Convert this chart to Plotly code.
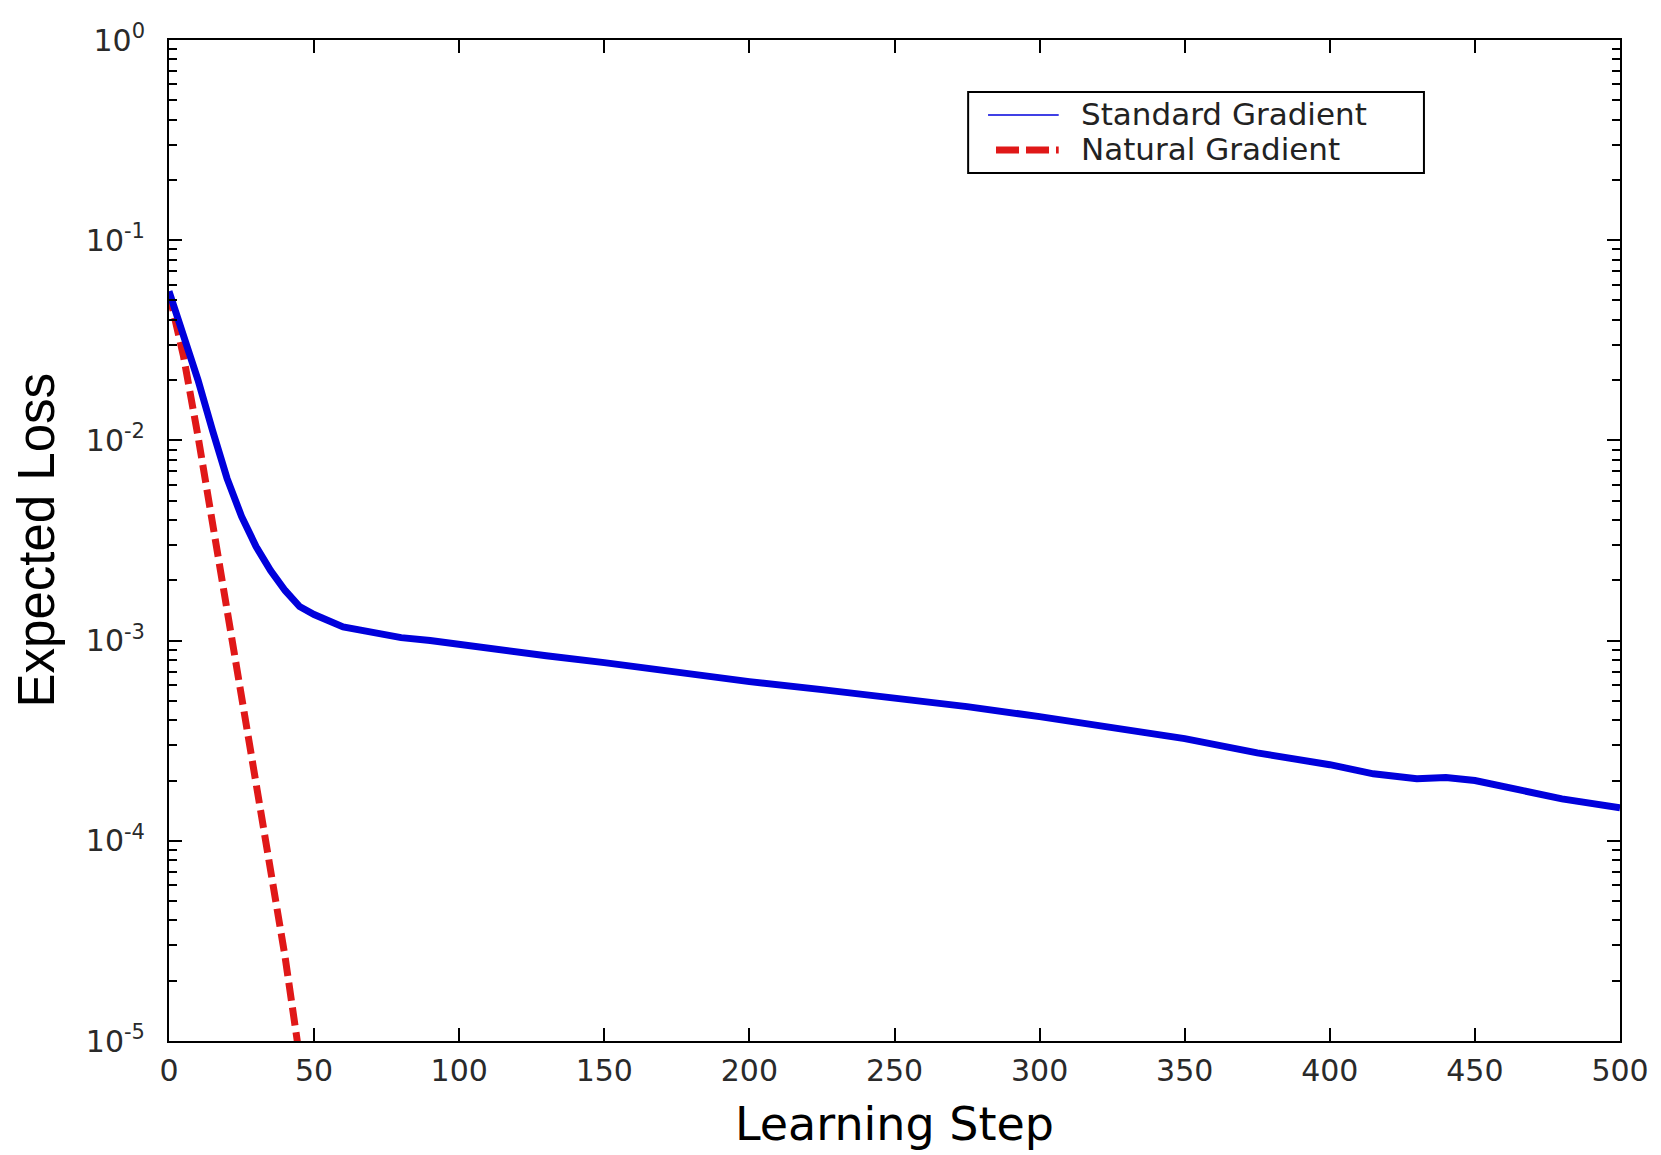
import plotly.graph_objects as go

# Expected loss per learning step for the two optimisers
steps_standard = [0, 5, 10, 15, 20, 25, 30, 35, 40, 45, 50, 60, 70, 80, 90, 100,
                  110, 120, 130, 150, 175, 200, 225, 250, 275, 300, 325, 350,
                  375, 400, 415, 430, 440, 450, 465, 480, 500]
loss_standard = [0.0556, 0.0339, 0.0200, 0.0112, 0.00646, 0.00417, 0.00295,
                 0.00224, 0.00178, 0.00148, 0.00135, 0.00117, 0.00110,
                 0.001035, 0.00100, 0.000955, 0.000912, 0.000871, 0.000841,
                 0.000776, 0.000692, 0.000624, 0.000569, 0.000519, 0.000468,
                 0.000417, 0.000367, 0.000324, 0.000275, 0.000240, 0.000216,
                 0.000204, 0.000207, 0.000200, 0.000180, 0.000162, 0.000146]

steps_natural = [0, 5, 10, 15, 20, 25, 30, 35, 40, 45]
loss_natural = [0.0543, 0.0263, 0.01047, 0.00389, 0.00141, 0.000525,
                0.000191, 0.0000708, 0.0000263, 0.00000832]

series_names = ["Standard Gradient", "Natural Gradient"]

x_tick_vals = [0, 50, 100, 150, 200, 250, 300, 350, 400, 450, 500]
y_tick_vals = [1e-5, 1e-4, 1e-3, 1e-2, 1e-1, 1]
y_tick_text = ["10<sup>-5</sup>", "10<sup>-4</sup>", "10<sup>-3</sup>",
               "10<sup>-2</sup>", "10<sup>-1</sup>", "10<sup>0</sup>"]
y_minor_vals = [m * 10.0 ** e for e in range(-5, 0) for m in range(2, 10)]

BLUE = "#0000dc"
RED = "#e01818"
RED_DASH = "18px,7px"
TICK_FONT = dict(family="DejaVu Sans", size=30, color="#2a2a2a")

# plot-area geometry (pixels)
W, H = 1661, 1155
L, R, T, B = 169, 34, 40, 114
PW, PH = W - L - R, H - T - B


def px(x):
    return (x - L) / PW


def py(y):
    return 1 - (y - T) / PH


fig = go.Figure()

fig.add_trace(go.Scatter(
    x=steps_natural, y=loss_natural, mode="lines", name=series_names[1],
    line=dict(color=RED, width=7, dash=RED_DASH),
))
fig.add_trace(go.Scatter(
    x=steps_standard, y=loss_standard, mode="lines", name=series_names[0],
    line=dict(color=BLUE, width=7),
))

# boxed legend in the upper right of the axes
legend_shapes = [
    dict(type="rect", xref="paper", yref="paper",
         x0=px(972), x1=px(1430), y0=py(92), y1=py(173),
         line=dict(color="black", width=2), fillcolor="white", layer="above"),
    dict(type="line", xref="paper", yref="paper",
         x0=px(992), x1=px(1063), y0=py(115), y1=py(115),
         line=dict(color=BLUE, width=1.5), layer="above"),
    dict(type="line", xref="paper", yref="paper",
         x0=px(1000), x1=px(1063), y0=py(150), y1=py(150),
         line=dict(color=RED, width=7, dash="23px,7px"), layer="above"),
]
legend_labels = [
    dict(text=name, xref="paper", yref="paper", x=px(1083), y=py(yc),
         xanchor="left", yanchor="middle", showarrow=False,
         font=dict(family="DejaVu Sans", size=31, color="#222222"))
    for name, yc in zip(series_names, [114, 149])
]

fig.update_layout(
    width=W, height=H,
    margin=dict(l=L, r=R, t=T, b=B),
    paper_bgcolor="white", plot_bgcolor="white",
    showlegend=False,
    xaxis=dict(
        range=[0, 500], tickmode="array", tickvals=x_tick_vals,
        ticks="inside", ticklen=13, tickwidth=2, tickcolor="black",
        showline=True, linewidth=2, linecolor="black", mirror="ticks",
        showgrid=False, zeroline=False, tickfont=TICK_FONT,
        ticklabelstandoff=2,
    ),
    yaxis=dict(
        type="log", range=[-5, 0], tickmode="array",
        tickvals=y_tick_vals, ticktext=y_tick_text,
        ticks="inside", ticklen=13, tickwidth=2, tickcolor="black",
        showline=True, linewidth=2, linecolor="black", mirror="ticks",
        showgrid=False, zeroline=False, tickfont=TICK_FONT,
        ticklabelstandoff=16,
        minor=dict(tickmode="array", tickvals=y_minor_vals, ticks="inside",
                   ticklen=8, tickwidth=2, tickcolor="black", showgrid=False),
    ),
    shapes=legend_shapes,
    annotations=legend_labels + [
        dict(text="Learning Step", xref="paper", yref="paper", x=0.5, y=0,
             xanchor="center", yanchor="middle", yshift=-83, showarrow=False,
             font=dict(family="DejaVu Sans", size=46, color="black")),
        dict(text="Expected Loss", xref="paper", yref="paper", x=0, y=0.5,
             xanchor="center", yanchor="middle", xshift=-133, textangle=-90,
             showarrow=False,
             font=dict(family="Liberation Sans", size=51, color="black")),
    ],
)

fig.write_html("out.html")
